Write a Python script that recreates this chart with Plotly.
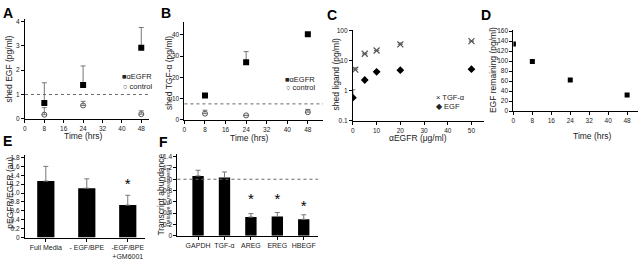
import plotly.graph_objects as go

W, H = 640, 260
FONT = "Liberation Sans, Arial, sans-serif"

# ---------------- data ----------------
# A: shed EGF vs time
time_a = [8, 24, 48]
egf_aegfr = [0.65, 1.39, 2.92]
egf_aegfr_err = [0.83, 0.78, 0.83]
egf_ctrl = [0.17, 0.55, 0.19]
egf_ctrl_err = [0.29, 0.17, 0.14]
egf_threshold = 1.0

# B: shed TGF-alpha vs time
time_b = [8, 24, 48]
tgf_aegfr = [11.4, 27.1, 40.3]
tgf_aegfr_err = [0.0, 5.0, 0.7]
tgf_ctrl = [2.9, 2.1, 3.6]
tgf_ctrl_err = [1.6, 0.0, 1.3]
tgf_threshold = 7.5

# C: shed ligand vs anti-EGFR dose
dose_tgf = [1, 5, 10, 20, 50]
shed_tgf = [5.1, 17.3, 22.2, 35.4, 45.5]
shed_tgf_err = [0.8, 0.0, 0.0, 4.5, 0.0]
dose_egf = [0, 5, 10, 20, 50]
shed_egf = [0.59, 2.3, 4.3, 4.9, 5.3]
shed_egf_err = [0.5, 0.0, 0.3, 0.3, 0.0]

# D: EGF remaining vs time
time_d = [0, 8, 24, 48]
egf_remaining = [134, 99, 62, 32]

# E: pEGFR/EGFR
cats_e = ["Full Media", "- EGF/BPE", "-EGF/BPE<br>+GM6001"]
ratio_e = [1.27, 1.11, 0.73]
ratio_e_err = [0.33, 0.21, 0.22]
star_e_x = ["-EGF/BPE<br>+GM6001"]
star_e_y = [1.17]

# F: transcript abundance
cats_f = ["GAPDH", "TGF-α", "AREG", "EREG", "HBEGF"]
abund_f = [1.06, 1.03, 0.33, 0.34, 0.29]
abund_f_err = [0.10, 0.10, 0.06, 0.07, 0.08]
star_f_x = ["AREG", "EREG", "HBEGF"]
star_f_y = [0.63, 0.63, 0.51]

# tick labels
time_ticks = [0, 8, 16, 24, 32, 40, 48]
ticks_a_y = [0, 1, 2, 3, 4]
ticks_b_y = [0, 10, 20, 30, 40]
ticks_c_x = [0, 10, 20, 30, 40, 50]
ticks_c_y = [0.1, 1, 10, 100]
ticks_c_y_text = ["0.1", "1", "10", "100"]
ticks_d_y = [0, 20, 40, 60, 80, 100, 120, 140, 160]
ticks_e_y = [0, 0.2, 0.4, 0.6, 0.8, 1.0, 1.2, 1.4, 1.6, 1.8]
ticks_e_y_text = ["0", "0.2", "0.4", "0.6", "0.8", "1.0", "1.2", "1.4", "1.6", "1.8"]
ticks_f_y = [0, 0.2, 0.4, 0.6, 0.8, 1.0, 1.2, 1.4]
ticks_f_y_text = ["0", "0.2", "0.4", "0.6", "0.8", "1.0", "1.2", "1.4"]


def px(x):
    return x / W


def py(y):
    return 1 - y / H


fig = go.Figure()

ERR = dict(type="data", symmetric=False, color="#777", thickness=1, width=2.5)


def err(a):
    d = dict(ERR)
    d["array"] = a
    d["arrayminus"] = [0] * len(a)
    return d


# A
fig.add_trace(go.Scatter(x=time_a, y=egf_aegfr, mode="markers", error_y=err(egf_aegfr_err),
                         marker=dict(symbol="square", size=6, color="black"), xaxis="x", yaxis="y"))
fig.add_trace(go.Scatter(x=time_a, y=egf_ctrl, mode="markers", error_y=err(egf_ctrl_err),
                         marker=dict(symbol="circle-open", size=5, color="#555", line=dict(width=1)),
                         xaxis="x", yaxis="y"))
# B
fig.add_trace(go.Scatter(x=time_b, y=tgf_aegfr, mode="markers", error_y=err(tgf_aegfr_err),
                         marker=dict(symbol="square", size=6, color="black"), xaxis="x2", yaxis="y2"))
fig.add_trace(go.Scatter(x=time_b, y=tgf_ctrl, mode="markers", error_y=err(tgf_ctrl_err),
                         marker=dict(symbol="circle-open", size=5, color="#555", line=dict(width=1)),
                         xaxis="x2", yaxis="y2"))
# C
fig.add_trace(go.Scatter(x=dose_tgf, y=shed_tgf, mode="markers", error_y=err(shed_tgf_err),
                         marker=dict(symbol="x-thin-open", size=6, color="#555", line=dict(width=1.2, color="#555")),
                         xaxis="x3", yaxis="y3"))
fig.add_trace(go.Scatter(x=dose_egf, y=shed_egf, mode="markers", error_y=err(shed_egf_err),
                         marker=dict(symbol="diamond", size=6, color="black"), xaxis="x3", yaxis="y3"))
# D
fig.add_trace(go.Scatter(x=time_d, y=egf_remaining, mode="markers",
                         marker=dict(symbol="square", size=5, color="black"), xaxis="x4", yaxis="y4"))
# E
fig.add_trace(go.Bar(x=cats_e, y=ratio_e, error_y=err(ratio_e_err), width=0.42,
                     marker=dict(color="black", line=dict(width=0)), xaxis="x5", yaxis="y5"))
fig.add_trace(go.Scatter(x=star_e_x, y=star_e_y, mode="text", text=["*"] * len(star_e_x),
                         textfont=dict(size=15, color="black", family=FONT), xaxis="x5", yaxis="y5"))
# F
fig.add_trace(go.Bar(x=cats_f, y=abund_f, error_y=err(abund_f_err), width=0.43,
                     marker=dict(color="black", line=dict(width=0)), xaxis="x6", yaxis="y6"))
fig.add_trace(go.Scatter(x=star_f_x, y=star_f_y, mode="text", text=["*"] * len(star_f_x),
                         textfont=dict(size=15, color="black", family=FONT), xaxis="x6", yaxis="y6"))

TICKF = dict(size=6.5, color="#222", family=FONT)
base = dict(showline=True, linecolor="black", linewidth=1, ticks="outside", ticklen=3,
            tickwidth=1, tickcolor="black", showgrid=False, zeroline=False, tickfont=TICKF,
            fixedrange=True)

layout = dict(
    width=W, height=H, margin=dict(l=0, r=0, t=0, b=0), showlegend=False,
    plot_bgcolor="white", paper_bgcolor="white", font=dict(family=FONT, color="#222"),
    xaxis=dict(base, domain=[px(23), px(147)], range=[0, 51], tickvals=time_ticks, anchor="y"),
    yaxis=dict(base, domain=[py(120), py(16.5)], range=[0, 4.1], tickvals=ticks_a_y, anchor="x"),
    xaxis2=dict(base, domain=[px(183), px(322)], range=[0, 53.9], tickvals=time_ticks, anchor="y2"),
    yaxis2=dict(base, domain=[py(121), py(20)], range=[0, 45.9], tickvals=ticks_b_y, anchor="x2"),
    xaxis3=dict(base, domain=[px(352), px(484)], range=[0, 55.5], tickvals=ticks_c_x, anchor="y3"),
    yaxis3=dict(base, domain=[py(122), py(28)], type="log", range=[-1, 2.03], tickvals=ticks_c_y,
                ticktext=ticks_c_y_text, anchor="x3"),
    xaxis4=dict(base, domain=[px(513), px(638)], range=[0, 52.6], tickvals=time_ticks, anchor="y4"),
    yaxis4=dict(base, domain=[py(112), py(28)], range=[0, 162], tickvals=ticks_d_y, anchor="x4"),
    xaxis5=dict(base, domain=[px(23), px(143)], range=[-0.51, 2.41], type="category", anchor="y5",
                tickfont=dict(size=7, color="#222", family=FONT)),
    yaxis5=dict(base, domain=[py(243), py(157)], range=[0, 1.865], tickvals=ticks_e_y,
                ticktext=ticks_e_y_text, anchor="x5"),
    xaxis6=dict(base, domain=[px(176), px(317)], range=[-0.78, 4.54], type="category", anchor="y6",
                tickfont=dict(size=7, color="#222", family=FONT)),
    yaxis6=dict(base, domain=[py(241), py(156)], range=[0, 1.455], tickvals=ticks_f_y,
                ticktext=ticks_f_y_text, anchor="x6"),
)
fig.update_layout(**layout)

# dotted threshold lines
for yref, xref, yv in [("y", "x", egf_threshold), ("y2", "x2", tgf_threshold), ("y6", "x6", 1.0)]:
    fig.add_shape(type="line", xref=xref + " domain", yref=yref, x0=0, x1=1, y0=yv, y1=yv,
                  line=dict(color="#666", width=1, dash="dot"))

ann = []


def text(x, y, s, size=8, angle=0, bold=False, anchor="center"):
    ann.append(dict(x=px(x), y=py(y), xref="paper", yref="paper", text=("<b>%s</b>" % s) if bold else s,
                    showarrow=False, textangle=angle, xanchor=anchor, yanchor="middle",
                    font=dict(size=size, family=FONT, color="black" if bold else "#222")))


# panel letters
text(6, 10, "A", 14, bold=True)
text(165, 10, "B", 14, bold=True)
text(331, 12, "C", 14, bold=True)
text(486, 12, "D", 14, bold=True)
text(6, 143, "E", 14, bold=True)
text(162, 144, "F", 14, bold=True)

# axis titles
text(82, 138, "Time (hrs)", 8.5)
text(248, 139.5, "Time (hrs)", 8.5)
text(417, 140, "αEGFR (μg/ml)", 8.5)
text(592, 137.5, "Time (hrs)", 8.5)
text(7, 68, "shed EGF (pg/ml)", 8.5, angle=-90)
text(167, 72, "shed TGF-α (pg/ml)", 8.5, angle=-90)
text(335, 74, "shed ligand (pg/ml)", 8.5, angle=-90)
text(492, 69, "EGF remaining (pg/ml)", 8.5, angle=-90)
text(8.5, 196, "pEGFR/EGFR (au)", 8.5, angle=-90)
text(160, 199, "Transcript abundance", 8.5, angle=-90)
text(166.5, 199, "(relative to no treatment )", 5.5, angle=-90)

# legends
text(118, 76, "■αEGFR", 7.5, anchor="left")
text(119, 86, "○ control", 7.5, anchor="left")
text(282, 79, "■αEGFR", 7.5, anchor="left")
text(283, 88, "○ control", 7.5, anchor="left")
text(433, 98, "× TGF-α", 7.5, anchor="left")
text(433, 107, "◆ EGF", 7.5, anchor="left")

fig.update_layout(annotations=ann)
fig.write_html("out.html", config={"displayModeBar": False},
               post_script="document.body.style.margin='0px';")
